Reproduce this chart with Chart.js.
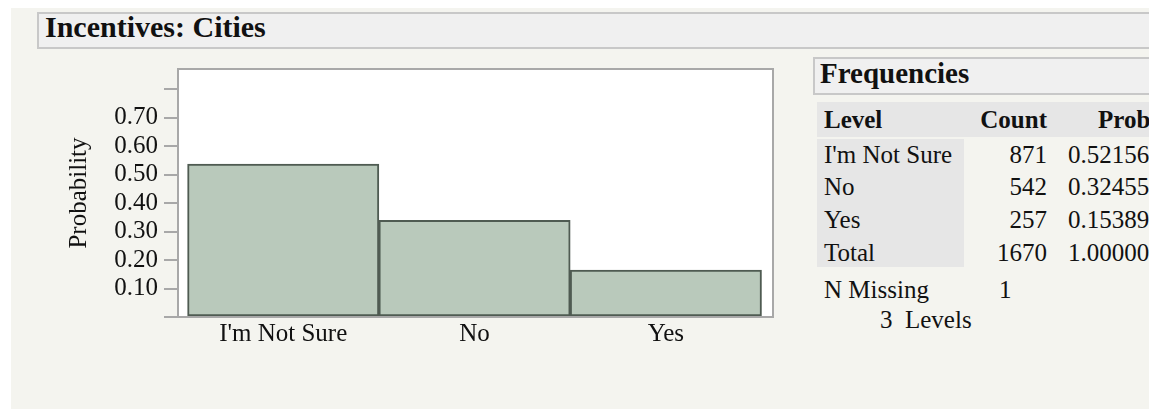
<!DOCTYPE html>
<html>
<head>
<meta charset="utf-8">
<style>
  body { margin: 0; width: 1149px; height: 409px; overflow: hidden; background: #fff;
         font-family: "Liberation Serif", "Times New Roman", serif; color: #111; }
  #bg { position: absolute; left: 11px; top: 8px; right: 0; bottom: 0; background: #f4f4ef; }
  .box { position: absolute; border: 2px solid #c8c8c8; background: #f0f0f0; box-sizing: border-box; }
  .t { position: absolute; white-space: nowrap; font-size: 25px; line-height: 30px; }
  .r { text-align: right; }
  .b { font-weight: bold; }
  .shade { position: absolute; background: #e6e6e6; }
  #chart { position: absolute; left: 0; top: 0; }
</style>
</head>
<body>
<div id="bg"></div>

<div class="box" style="left:37px; top:12px; width:1130px; height:37px;"></div>
<div class="t b" style="left:45px; top:12px; font-size:30px; line-height:30px;">Incentives: Cities</div>

<canvas id="chart" width="800" height="370"></canvas>

<div class="box" style="left:813px; top:57px; width:360px; height:38px;"></div>
<div class="t b" style="left:820px; top:59px; font-size:29px; line-height:29px;">Frequencies</div>
<div class="shade" style="left:817px; top:102px; width:340px; height:35px;"></div>
<div class="shade" style="left:817px; top:139px; width:147px; height:128px;"></div>
<div id="table"></div>

<script src="https://cdn.jsdelivr.net/npm/chart.js"></script>
<script>
// values
const categories = ["I'm Not Sure", 'No', 'Yes'];
const barHeights = [0.538, 0.340, 0.165];
const yTicks = [0, 0.1, 0.2, 0.3, 0.4, 0.5, 0.6, 0.7, 0.8];
const yTickLabels = ['', '0.10', '0.20', '0.30', '0.40', '0.50', '0.60', '0.70', ''];

// frequency table
const levels = ["I'm Not Sure", 'No', 'Yes', 'Total'];
const counts = ['871', '542', '257', '1670'];
const probs = ['0.52156', '0.32455', '0.15389', '1.00000'];
const nMissing = '1';
const nLevels = '3';

// build the table text
const rowTops = [139.5, 171.5, 204.5, 237.8];
let html = '';
html += '<div class="t b" style="left:824px; top:105px;">Level</div>';
html += '<div class="t b r" style="right:102px; top:105px;">Count</div>';
html += '<div class="t b" style="left:1098px; top:105px;">Prob</div>';
levels.forEach((lv, i) => {
    html += `<div class="t" style="left:824px; top:${rowTops[i]}px;">${lv}</div>`;
    html += `<div class="t r" style="right:102px; top:${rowTops[i]}px;">${counts[i]}</div>`;
    html += `<div class="t" style="left:1068px; top:${rowTops[i]}px;">${probs[i]}</div>`;
});
html += '<div class="t" style="left:824px; top:274.5px;">N Missing</div>';
html += `<div class="t" style="left:999px; top:274.5px;">${nMissing}</div>`;
html += `<div class="t" style="left:880px; top:304.5px;">${nLevels}&nbsp; Levels</div>`;
document.getElementById('table').innerHTML = html;

const serif = '"Liberation Serif", "Times New Roman", serif';
const axisGray = '#a8a8a8';

// white plot box with grey frame, bottom line runs under the tick marks
const framePlugin = {
    id: 'frame',
    beforeDatasetsDraw(chart) {
        const a = chart.chartArea;
        const c = chart.ctx;
        c.save();
        c.fillStyle = '#ffffff';
        c.fillRect(a.left, a.top, a.right - a.left, a.bottom - a.top);
        c.restore();
    },
    afterDatasetsDraw(chart) {
        const a = chart.chartArea;
        const c = chart.ctx;
        c.save();
        c.strokeStyle = axisGray;
        c.lineWidth = 2;
        c.beginPath();
        c.moveTo(a.left - 14, a.bottom);
        c.lineTo(a.right, a.bottom);
        c.lineTo(a.right, a.top);
        c.lineTo(a.left, a.top);
        c.lineTo(a.left, a.bottom);
        c.stroke();
        c.restore();
    }
};

const ctx = document.getElementById('chart').getContext('2d');
const chart = new Chart(ctx, {
    type: 'bar',
    data: {
        datasets: [{
            data: barHeights.map((v, i) => ({ x: i, y: v })),
            backgroundColor: '#b9c9bb',
            borderColor: '#4f5b52',
            borderWidth: 2,
            borderSkipped: false,
            barPercentage: 1,
            categoryPercentage: 1
        }]
    },
    options: {
        responsive: false,
        animation: false,
        layout: { padding: { left: 0, top: 69, right: 27, bottom: 0 } },
        plugins: { legend: { display: false }, tooltip: { enabled: false } },
        scales: {
            x: {
                type: 'linear',
                offset: false,
                min: -0.55,
                max: 2.56,
                grid: { display: false, drawTicks: false },
                border: { display: false },
                afterBuildTicks: s => { s.ticks = categories.map((c, i) => ({ value: i })); },
                afterFit: s => { s.height = 53; },
                ticks: {
                    autoSkip: false,
                    maxRotation: 0,
                    padding: 2,
                    color: '#111',
                    font: { family: serif, size: 25 },
                    callback: (v) => categories[v]
                }
            },
            y: {
                min: 0,
                max: 0.872,
                grid: { drawOnChartArea: false, drawTicks: true, tickLength: 14, color: axisGray, lineWidth: 2 },
                border: { display: false },
                afterBuildTicks: s => { s.ticks = yTicks.map(v => ({ value: v })); },
                afterFit: s => { s.width = 178; },
                ticks: {
                    autoSkip: false,
                    padding: 6,
                    color: '#111',
                    font: { family: serif, size: 25 },
                    callback: (v, i) => yTickLabels[i]
                },
                title: {
                    display: true,
                    text: 'Probability',
                    color: '#111',
                    font: { family: serif, size: 25 },
                    padding: { top: 64, bottom: 0 }
                }
            }
        }
    },
    plugins: [framePlugin]
});
</script>
</body>
</html>
